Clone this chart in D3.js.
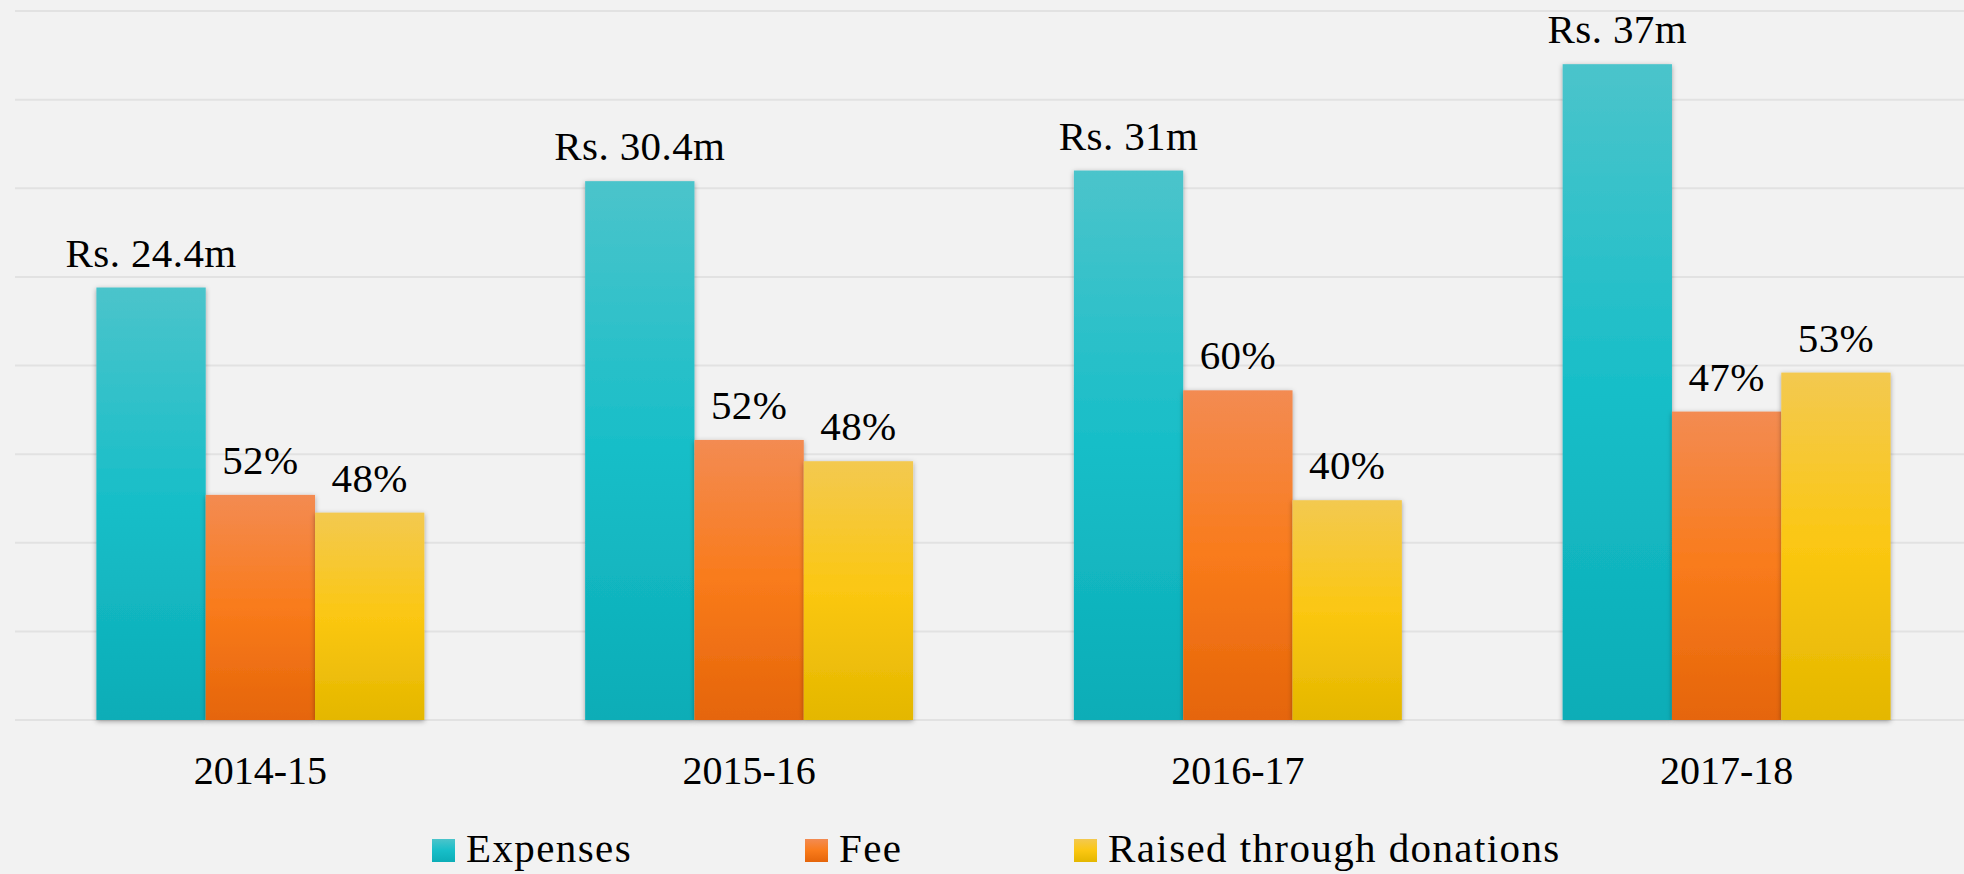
<!DOCTYPE html>
<html>
<head>
<meta charset="utf-8">
<script src="https://cdn.jsdelivr.net/npm/d3@7"></script>
<style>
  html, body { margin: 0; padding: 0; background: #f2f2f2; }
  svg { display: block; }
  svg text { font-family: "Liberation Serif", "DejaVu Serif", serif; fill: #000; }
</style>
</head>
<body>
<script>
var width = 1964,
    height = 874;

// categories (fiscal years)
const years = ["2014-15", "2015-16", "2016-17", "2017-18"];
// series names
const seriesNames = ["Expenses", "Fee", "Raised through donations"];
// bar values in Rs. million
const expenses = [24.4, 30.4, 31, 37];
const fee = [12.7, 15.8, 18.6, 17.4];
const donations = [11.7, 14.6, 12.4, 19.6];
// labels shown above the bars
const expenseLabels = ["Rs. 24.4m", "Rs. 30.4m", "Rs. 31m", "Rs. 37m"];
const feeLabels = ["52%", "52%", "60%", "47%"];
const donationLabels = ["48%", "48%", "40%", "53%"];
// gridline ticks
const yTicks = [0, 5, 10, 15, 20, 25, 30, 35, 40];

// couleurs des dégradés (haut, milieu, bas)
const gradients = [
    ["#4bc4cb", "#17bec8", "#0cadb7"],
    ["#f38b52", "#f97b1b", "#e5650a"],
    ["#f3c950", "#fbc712", "#e4b700"]
];

var rows = years.map((y, i) => ({
    year: y,
    values: [expenses[i], fee[i], donations[i]],
    labels: [expenseLabels[i], feeLabels[i], donationLabels[i]]
}));

var svg = d3.select("body").append("svg")
    .attr("width", width)
    .attr("height", height);

svg.append("rect").attr("width", width).attr("height", height).attr("fill", "#f2f2f2");

var defs = svg.append("defs");

gradients.forEach(function (g, i) {
    var lg = defs.append("linearGradient")
        .attr("id", "grad" + i)
        .attr("x1", 0).attr("y1", 0).attr("x2", 0).attr("y2", 1);
    lg.append("stop").attr("offset", "0%").attr("stop-color", g[0]);
    lg.append("stop").attr("offset", "50%").attr("stop-color", g[1]);
    lg.append("stop").attr("offset", "100%").attr("stop-color", g[2]);
});

var shadow = defs.append("filter").attr("id", "shadow")
    .attr("x", "-20%").attr("y", "-5%").attr("width", "140%").attr("height", "110%");
shadow.append("feDropShadow")
    .attr("dx", 0).attr("dy", 1.5)
    .attr("stdDeviation", 2.5)
    .attr("flood-color", "#000")
    .attr("flood-opacity", 0.35);

var x = d3.scaleBand()
    .domain(years)
    .range([16, 1971])
    .paddingInner(0.329)
    .paddingOuter(0.1645);

var xs = d3.scaleBand()
    .domain(d3.range(seriesNames.length))
    .range([0, x.bandwidth()]);

var y = d3.scaleLinear()
    .domain([0, 40])
    .range([720, 11]);

// gridlines
svg.append("g").selectAll("line")
    .data(yTicks)
    .join("line")
    .attr("x1", 15)
    .attr("x2", width)
    .attr("y1", d => y(d))
    .attr("y2", d => y(d))
    .attr("stroke", "#e2e2e2")
    .attr("stroke-width", 2);

// barres
var groups = svg.append("g").selectAll("g")
    .data(rows)
    .join("g")
    .attr("transform", d => `translate(${x(d.year)},0)`);

groups.selectAll("rect")
    .data(d => d.values)
    .join("rect")
    .attr("x", (d, i) => xs(i))
    .attr("width", xs.bandwidth())
    .attr("y", d => y(d))
    .attr("height", d => y(0) - y(d))
    .attr("fill", (d, i) => `url(#grad${i})`)
    .attr("filter", "url(#shadow)");

// étiquettes au-dessus des barres
groups.selectAll("text.val")
    .data(d => d.values.map((v, i) => ({ v: v, label: d.labels[i], i: i })))
    .join("text")
    .attr("class", "val")
    .attr("x", d => xs(d.i) + xs.bandwidth() / 2)
    .attr("y", d => y(d.v) - 21)
    .attr("text-anchor", "middle")
    .style("font-size", "41px")
    .style("letter-spacing", "0.4px")
    .text(d => d.label);

// axe des x
var xAxis = svg.append("g")
    .attr("transform", "translate(0,720)")
    .call(d3.axisBottom(x).tickSize(0).tickPadding(0));
xAxis.select(".domain").remove();
xAxis.attr("font-family", null).attr("font-size", null);
xAxis.selectAll("text")
    .attr("y", 64)
    .attr("dy", 0)
    .style("font-size", "40px")
    .attr("fill", "#000");

// légende
const legendX = [432, 805, 1074];
var legend = svg.append("g").selectAll("g")
    .data(seriesNames)
    .join("g")
    .attr("transform", (d, i) => `translate(${legendX[i]},839)`);

legend.append("rect")
    .attr("width", 23)
    .attr("height", 23)
    .attr("fill", (d, i) => `url(#grad${i})`);

legend.append("text")
    .attr("x", 34)
    .attr("y", 23)
    .style("font-size", "41px")
    .style("letter-spacing", "1.4px")
    .text(d => d);
</script>
</body>
</html>
